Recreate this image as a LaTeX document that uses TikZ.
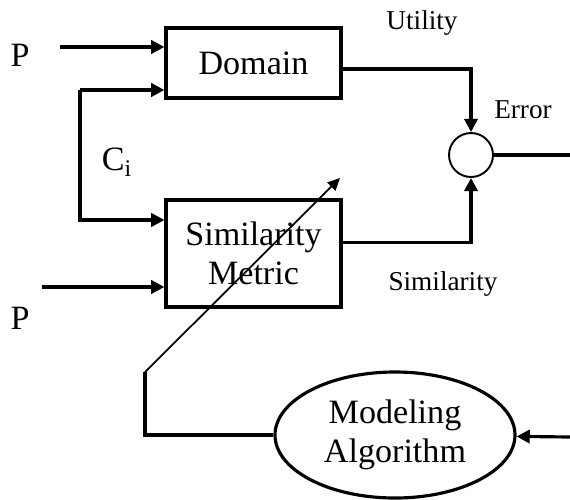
\documentclass[tikz,border=0pt]{standalone}
\usepackage{fontspec}
\setmainfont{Liberation Serif}
\usetikzlibrary{arrows.meta,positioning,shapes.geometric}
\tikzset{
  block/.style={draw,line width=1.8pt,minimum width=3.5cm,align=center,font=\fontsize{19.4}{22.5}\selectfont},
  sumnode/.style={draw,circle,line width=1.1pt,minimum size=0.88cm,inner sep=0pt},
  algo/.style={draw,ellipse,line width=1.8pt,minimum width=4.8cm,minimum height=2.52cm,inner sep=0pt,align=center,font=\fontsize{19.4}{22.5}\selectfont},
  lab/.style={font=\fontsize{19.4}{22}\selectfont},
  slab/.style={font=\fontsize{15.5}{18}\selectfont},
  wire/.style={line width=1.8pt},
  sig/.style={-{Triangle[length=7.5pt,width=7.5pt]},line width=1.8pt},
  tune/.style={-{Triangle[length=7pt,width=6.5pt]},line width=1pt}
}
\begin{document}
\begin{tikzpicture}
\useasboundingbox (0,0) rectangle (11.4,-9.98);
\node[block,minimum height=1.4cm] (dom) at (5.07,-1.26) {Domain};
\node[block,minimum height=2.14cm] (sim) at (5.07,-5.07) {Similarity\\Metric};
\node[sumnode] (err) at (9.42,-3.1) {};
\node[algo] (alg) at (7.9,-8.7) {Modeling\\Algorithm};
% labels
\node[lab] (p1) at (0.4,-1.1) {P};
\node[lab] (p2) at (0.4,-6.36) {P};
\node[lab] (ci) at (2.34,-3.24) {C\textsubscript{i}};
\node[slab] (ut) at (8.44,-0.46) {Utility};
\node[slab] (er) at (10.46,-2.2) {Error};
\node[slab] (sl) at (8.86,-5.68) {Similarity};
% free ends
\coordinate (in1) at (1.2,-0.94);
\coordinate (in2) at (0.84,-5.74);
\coordinate (cl) at (1.6,-4.4);
\coordinate (out) at (11.4,-3.1);
\coordinate (ain) at (11.4,-8.74);
\coordinate (knee) at (2.9,-7.44);
\coordinate (tip) at (6.8,-3.56);
\draw[sig] (in1) -- (in1 -| dom.west);
\draw[sig] (in2) -- (in2 -| sim.west);
\draw[sig] (cl |- 0,-1.8) -- (dom.west |- 0,-1.8);
\draw[sig] (cl |- 0,-1.8) -- (cl) -- (cl -| sim.west);
\draw[sig] ([yshift=-3.4pt]dom.east) -| (err);
\draw[sig] ([yshift=6.5pt]sim.east) -| (err);
\draw[wire] (err) -- (out);
\draw[sig] (ain) -- (alg);
\draw[wire] (alg.west) -| (knee);
\draw[tune] (knee) -- (tip);
\end{tikzpicture}
\end{document}
